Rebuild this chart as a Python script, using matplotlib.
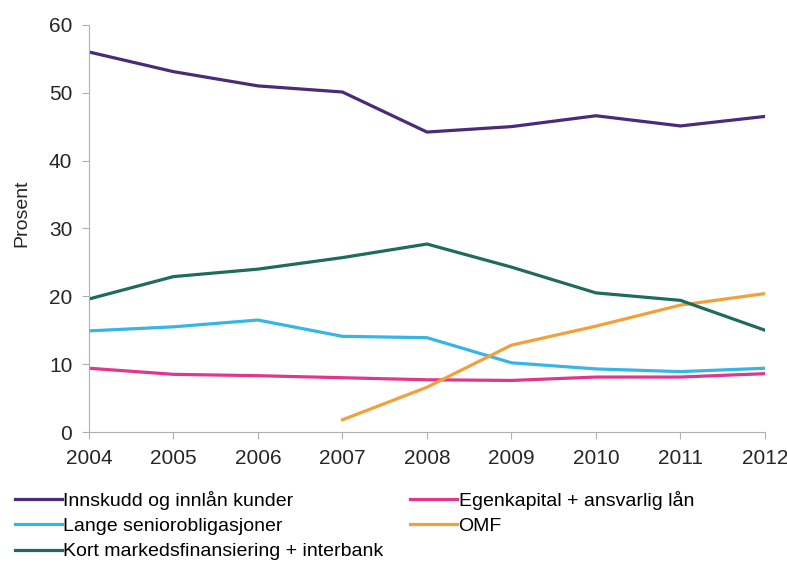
import matplotlib.pyplot as plt

plt.rcParams['font.family'] = ['Liberation Sans', 'DejaVu Sans']

years = [2004, 2005, 2006, 2007, 2008, 2009, 2010, 2011, 2012]
innskudd = [56.0, 53.1, 51.0, 50.1, 44.2, 45.0, 46.6, 45.1, 46.5]
kort = [19.6, 22.9, 24.0, 25.7, 27.7, 24.3, 20.5, 19.4, 15.0]
lange = [14.9, 15.5, 16.5, 14.1, 13.9, 10.2, 9.3, 8.9, 9.4]
egenkapital = [9.4, 8.5, 8.3, 8.0, 7.7, 7.6, 8.1, 8.1, 8.6]
omf_years = [2007, 2008, 2009, 2010, 2011, 2012]
omf = [1.8, 6.6, 12.8, 15.6, 18.7, 20.4]

fig = plt.figure(figsize=(7.87, 5.64), dpi=100)
ax = fig.add_axes([0.113, 0.234, 0.859, 0.722])

lw = 2.3
l1, = ax.plot(years, innskudd, color='#4a2a7a', lw=lw, label='Innskudd og innlån kunder')
l2, = ax.plot(years, egenkapital, color='#e0368e', lw=lw, label='Egenkapital + ansvarlig lån')
l3, = ax.plot(years, lange, color='#35b6e6', lw=lw, label='Lange seniorobligasjoner')
l4, = ax.plot(omf_years, omf, color='#f2a03a', lw=lw, label='OMF')
l5, = ax.plot(years, kort, color='#1f6b5c', lw=lw, label='Kort markedsfinansiering + interbank')

ax.set_xlim(2004, 2012)
ax.set_ylim(0, 60)
ax.set_xticks(years)
ax.set_yticks(range(0, 61, 10))
ax.tick_params(labelsize=15, labelcolor='#262626', length=5, direction='out',
               color='#b0b0b0', pad=7)
for s in ['top', 'right']:
    ax.spines[s].set_visible(False)
for s in ['left', 'bottom']:
    ax.spines[s].set_color('#b0b0b0')
ax.set_ylabel('Prosent', fontsize=14, color='#262626')
ax.yaxis.set_label_coords(-0.086, 0.538)

# two legend blocks, the right one overlapping the long label on the left
leg_kw = dict(loc='upper left', frameon=False, fontsize=14, handlelength=2.4,
              handletextpad=0.1, labelspacing=0.4, borderaxespad=0)
fig.legend(handles=[l1, l3, l5], bbox_to_anchor=(0.009, 0.144), **leg_kw)
fig.legend(handles=[l2, l4], bbox_to_anchor=(0.511, 0.144), **leg_kw)

fig.savefig('out.png', dpi=100)
